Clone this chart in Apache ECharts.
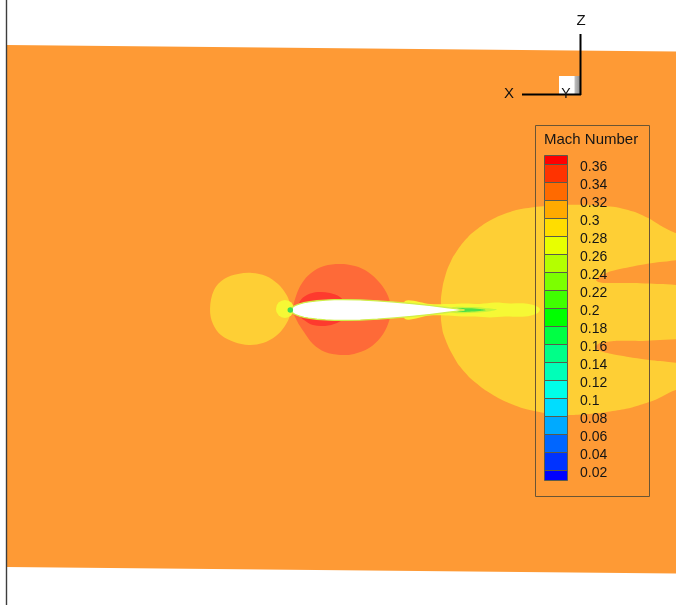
<!DOCTYPE html>
<html>
<head>
<meta charset="utf-8">
<script src="https://cdn.jsdelivr.net/npm/echarts@6/dist/echarts.min.js"></script>
<style>
  html, body { margin: 0; padding: 0; background: #ffffff; }
  #chart { width: 676px; height: 605px; }
</style>
</head>
<body>
<div id="chart"></div>
<script>
// ---- Legend: Mach number contour levels (top to bottom) ----
const machLevels = [0.36, 0.34, 0.32, 0.3, 0.28, 0.26, 0.24, 0.22, 0.2, 0.18,
                    0.16, 0.14, 0.12, 0.1, 0.08, 0.06, 0.04, 0.02];
const bandColors = ['#ff0000', '#ff3300', '#ff6a00', '#ffaa00', '#ffdd00', '#e8ff00',
                    '#b4ff00', '#7cff00', '#40ff00', '#00ff00', '#00ff44', '#00ff88',
                    '#00ffb8', '#00ffe8', '#00ddff', '#00aaff', '#0066ff', '#0033ff', '#0000ff'];
const barTopValue = 0.3703;     // open-ended upper band
const barBottomValue = 0.0092;  // open-ended lower band

// ---- NACA 0012 section ordinates (x/c, half thickness) ----
const airfoilX = [0, 0.0125, 0.025, 0.05, 0.075, 0.1, 0.15, 0.2, 0.25, 0.3,
                  0.4, 0.5, 0.6, 0.7, 0.8, 0.9, 0.95, 1.0];
const airfoilT = [0, 0.01894, 0.02615, 0.03555, 0.042, 0.04683, 0.05345, 0.05737, 0.05941, 0.06002,
                  0.05803, 0.05294, 0.04563, 0.03664, 0.02623, 0.01448, 0.00807, 0.00126];

// ---- Contour bands in chord units (x/c, z/c) ----
const farField = [[-1.642, 1.532], [2.30, 1.493], [2.30, -1.524], [-1.642, -1.486]];
const upstreamBand = [[-0.468, 0.006], [-0.445, 0.116], [-0.387, 0.179], [-0.306, 0.208],
  [-0.225, 0.214], [-0.145, 0.197], [-0.075, 0.150], [-0.029, 0.092], [-0.006, 0.035],
  [-0.006, -0.029], [-0.035, -0.092], [-0.087, -0.150], [-0.162, -0.191], [-0.243, -0.202],
  [-0.329, -0.185], [-0.405, -0.145], [-0.451, -0.081]];
const wakeBand = [[0.867, 0], [0.867, 0.069], [0.879, 0.150], [0.902, 0.231], [0.936, 0.306],
  [0.983, 0.376], [1.040, 0.439], [1.116, 0.497], [1.202, 0.543], [1.301, 0.578], [1.410, 0.595],
  [1.555, 0.607], [1.728, 0.607], [1.873, 0.595], [1.988, 0.566], [2.075, 0.526], [2.150, 0.480],
  [2.225, 0.445], [2.480, 0.428], [2.480, -0.474], [2.225, -0.462], [2.104, -0.520],
  [1.960, -0.566], [1.786, -0.595], [1.613, -0.607], [1.468, -0.595], [1.335, -0.566],
  [1.220, -0.520], [1.121, -0.462], [1.035, -0.393], [0.965, -0.312], [0.913, -0.220],
  [0.879, -0.133], [0.867, -0.058]];
const upperTongue = [[1.763, 0.173], [1.786, 0.197], [1.855, 0.225], [1.988, 0.254], [2.133, 0.277],
  [2.480, 0.301], [2.480, 0.145], [2.133, 0.150], [1.960, 0.156], [1.815, 0.156], [1.775, 0.162]];
const lowerTongue = [[1.757, -0.214], [1.786, -0.191], [1.873, -0.179], [2.017, -0.179],
  [2.480, -0.173], [2.480, -0.318], [2.133, -0.295], [1.988, -0.277], [1.855, -0.254],
  [1.786, -0.237]];
const suctionBand = [[0.012, 0], [0.029, 0.081], [0.064, 0.156], [0.116, 0.214], [0.191, 0.254],
  [0.283, 0.266], [0.370, 0.254], [0.445, 0.220], [0.514, 0.156], [0.561, 0.081], [0.578, 0],
  [0.561, -0.081], [0.520, -0.156], [0.451, -0.220], [0.364, -0.254], [0.283, -0.260],
  [0.197, -0.243], [0.127, -0.197], [0.075, -0.127], [0.035, -0.064]];
const peakBand = [[0.040, 0], [0.052, 0.052], [0.092, 0.087], [0.156, 0.104], [0.225, 0.098],
  [0.283, 0.075], [0.312, 0.040], [0.318, 0], [0.306, -0.046], [0.266, -0.075], [0.197, -0.092],
  [0.127, -0.087], [0.075, -0.058], [0.046, -0.029]];
const wakeStreak = [[0.659, 0.052], [0.803, 0.035], [0.919, 0.035], [1.006, 0.038], [1.092, 0.035],
  [1.179, 0.043], [1.266, 0.038], [1.353, 0.038], [1.410, 0.026], [1.439, 0.006], [1.422, -0.020],
  [1.353, -0.038], [1.237, -0.038], [1.150, -0.043], [1.064, -0.038], [0.988, -0.038],
  [0.908, -0.032], [0.803, -0.032], [0.659, -0.052]];
const wakeInner = [[0.930, 0.015], [1.035, 0.017], [1.120, 0.012], [1.190, 0.003], [1.120, -0.012],
  [1.035, -0.017], [0.930, -0.015]];
const wakeCore = [[0.960, 0.010], [1.030, 0.010], [1.090, 0.006], [1.125, 0], [1.090, -0.006],
  [1.030, -0.010], [0.960, -0.010]];
// stagnation spot: [x, z, radius]
const stagnationRing = [-0.035, 0.006, 0.052];
const stagnationCore = [-0.004, 0, 0.016];

// ---- Layout of the field view (chord scale in pixels) ----
const W = 676, H = 605;
const pxPerChord = 173, lePx = 291, axisPx = 310;
const fieldX = [-lePx / pxPerChord, (W - lePx) / pxPerChord];
const fieldZ = [-(H - axisPx) / pxPerChord, axisPx / pxPerChord];

const FONT = '"Liberation Sans", Arial, Helvetica, sans-serif';

// closed airfoil outline: upper surface LE->TE, lower TE->LE
const airfoil = airfoilX.map((x, i) => [x, airfoilT[i]])
  .concat(airfoilX.slice().reverse().map((x, i) => [x, -airfoilT[airfoilX.length - 1 - i]]));

const layers = [
  { pts: farField, fill: '#fe9a35', smooth: 0 },
  { pts: upstreamBand, fill: '#fecf35', smooth: 0.35 },
  { pts: wakeBand, fill: '#fecf35', smooth: 0.15 },
  { pts: upperTongue, fill: '#fe9a35', smooth: 0.2 },
  { pts: lowerTongue, fill: '#fe9a35', smooth: 0.2 },
  { pts: suctionBand, fill: '#fe6a38', smooth: 0.35 },
  { pts: peakBand, fill: '#fe3a2e', smooth: 0.35 },
  { circle: stagnationRing, fill: '#f6f835' },
  { pts: wakeStreak, fill: '#f6f835', smooth: 0.3 },
  { pts: wakeInner, fill: '#c8f23c', smooth: 0.3 },
  { pts: wakeCore, fill: '#4fe048', smooth: 0.3 },
  { pts: airfoil, fill: '#ffffff', smooth: 0, stroke: '#cfee48', lineWidth: 1.3 },
  { circle: stagnationCore, fill: '#3fdc50' }
];

// band intervals for the colour bar, top band first
const bandEdges = [barTopValue].concat(machLevels, [barBottomValue]);
const bands = bandColors.map((c, i) => [bandEdges[i + 1], bandEdges[i]]);

const chart = echarts.init(document.getElementById('chart'), null, { renderer: 'canvas' });

chart.setOption({
  animation: false,
  backgroundColor: '#ffffff',
  grid: [
    { left: 0, top: 0, width: W, height: H },
    { left: 544, top: 155, width: 23, height: 325 }
  ],
  xAxis: [
    { type: 'value', gridIndex: 0, min: fieldX[0], max: fieldX[1], show: false },
    { type: 'value', gridIndex: 1, min: 0, max: 1, show: false }
  ],
  yAxis: [
    { type: 'value', gridIndex: 0, min: fieldZ[0], max: fieldZ[1], show: false },
    { type: 'value', gridIndex: 1, min: barBottomValue, max: barTopValue, show: false }
  ],
  series: [
    {
      type: 'custom', xAxisIndex: 0, yAxisIndex: 0, silent: true, clip: true,
      data: layers.map((l, i) => [i, 0]),
      renderItem(params, api) {
        const l = layers[params.dataIndex];
        if (l.circle) {
          const c = api.coord([l.circle[0], l.circle[1]]);
          const r = api.size([l.circle[2], 0])[0];
          return { type: 'circle', shape: { cx: c[0], cy: c[1], r: r }, style: { fill: l.fill } };
        }
        return {
          type: 'polygon',
          shape: { points: l.pts.map(p => api.coord(p)), smooth: l.smooth },
          style: { fill: l.fill, stroke: l.stroke || null, lineWidth: l.lineWidth || 0 }
        };
      }
    },
    {
      // colour bar bands
      type: 'custom', xAxisIndex: 1, yAxisIndex: 1, silent: true,
      data: bands,
      renderItem(params, api) {
        const lo = api.value(0), hi = api.value(1);
        const a = api.coord([0, hi]), b = api.coord([1, lo]);
        return {
          type: 'rect',
          shape: { x: Math.round(a[0]) + 0.5, y: Math.round(a[1]) + 0.5,
                   width: Math.round(b[0] - a[0]), height: Math.round(b[1]) - Math.round(a[1]) },
          style: { fill: bandColors[params.dataIndex], stroke: '#5b5b4a', lineWidth: 1 }
        };
      }
    },
    {
      // colour bar level labels
      type: 'custom', xAxisIndex: 1, yAxisIndex: 1, silent: true,
      data: machLevels.map(v => [1, v]),
      renderItem(params, api) {
        const p = api.coord([1, api.value(1)]);
        return {
          type: 'text', x: p[0] + 13, y: p[1] + 2.5,
          style: { text: String(api.value(1)), font: '14px ' + FONT, fill: '#151515',
                   textAlign: 'left', textVerticalAlign: 'middle' }
        };
      }
    }
  ],
  graphic: [
    // frame edge on the left
    { type: 'line', shape: { x1: 6.5, y1: 0, x2: 6.5, y2: H }, style: { stroke: '#3d3d3d', lineWidth: 1.4 }, z: 100 },
    // legend frame and title
    { type: 'rect', shape: { x: 535.5, y: 125.5, width: 114, height: 371 },
      style: { fill: null, stroke: '#6a5534', lineWidth: 1 }, z: 100 },
    { type: 'text', x: 544, y: 140, style: { text: 'Mach Number', font: '15px ' + FONT, fill: '#151515',
      textVerticalAlign: 'middle' }, z: 100 },
    // orientation axes
    { type: 'rect', shape: { x: 559, y: 76, width: 21, height: 18 },
      style: { fill: new echarts.graphic.LinearGradient(0, 0, 1, 0, [
        { offset: 0, color: '#ffffff' }, { offset: 0.72, color: '#ffffff' },
        { offset: 0.76, color: '#bdbdbd' }, { offset: 1, color: '#8e8e8e' }]) }, z: 100 },
    { type: 'line', shape: { x1: 580.5, y1: 34, x2: 580.5, y2: 95 }, style: { stroke: '#000', lineWidth: 2 }, z: 101 },
    { type: 'line', shape: { x1: 522, y1: 94.5, x2: 581, y2: 94.5 }, style: { stroke: '#000', lineWidth: 2 }, z: 101 },
    { type: 'text', x: 581, y: 21, style: { text: 'Z', font: '15px ' + FONT, fill: '#111',
      textAlign: 'center', textVerticalAlign: 'middle' }, z: 101 },
    { type: 'text', x: 509, y: 94, style: { text: 'X', font: '15px ' + FONT, fill: '#111',
      textAlign: 'center', textVerticalAlign: 'middle' }, z: 101 },
    { type: 'text', x: 566, y: 94, style: { text: 'Y', font: '14px ' + FONT, fill: '#111',
      textAlign: 'center', textVerticalAlign: 'middle' }, z: 101 }
  ]
});
</script>
</body>
</html>
